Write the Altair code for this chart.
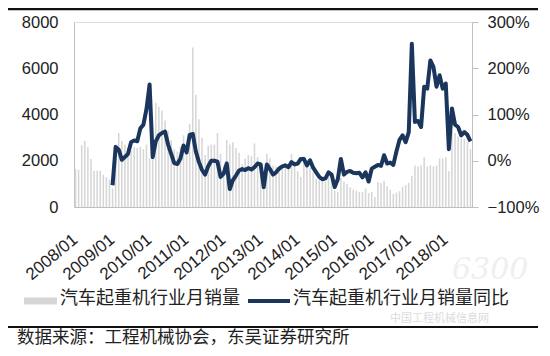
import altair as alt
import pandas as pd

years = list(range(2008, 2019))
months = [f"{y}/{m:02d}" for y in years for m in range(1, 13)][:129]
jan_labels = [f"{y}/01" for y in years]

# 汽车起重机行业月销量 (台)
sales = [
    1650, 1600, 2680, 2870, 2580, 2080, 1570, 1570, 1570, 1390, 1290, 1180,  # 2008
    800, 2100, 3200, 2850, 2700, 2550, 2450, 2600, 2550, 2600, 2500, 2700,   # 2009
    2100, 2300, 4500, 4330, 4170, 3740, 3300, 2900, 2500, 2400, 2600, 3100,  # 2010
    2500, 3600, 6900, 4850, 3800, 3000, 2250, 2650, 2700, 2700, 3200, 2300,  # 2011
    1800, 2900, 2700, 2800, 2550, 2350, 1850, 2100, 2250, 2200, 2750, 2150,  # 2012
    1650, 1250, 2300, 2100, 1800, 1750, 1500, 1700, 1900, 1800, 2300, 1900,  # 2013
    1550, 1300, 2200, 1900, 1700, 1500, 1200, 1200, 1300, 1100, 1500, 1300,  # 2014
    700, 650, 1250, 1100, 1000, 850, 750, 700, 650, 650, 800, 600,           # 2015
    650, 430, 1080, 1040, 1140, 900, 750, 560, 620, 680, 870, 950,           # 2016
    1050, 1350, 1800, 1750, 1800, 2150, 1750, 1800, 1750, 1800, 2100, 2100,  # 2017
    2150, 1550, 3300, 3200, 3050, 2950, 2950, 2800, 2500,                    # 2018
]

# 汽车起重机行业月销量同比 (%), from 2009/01
yoy = [
    -53, 30, 24, 2, 8, 15, 40, 44, 42, 70, 78, 112,          # 2009
    165, 8, 42, 55, 60, 63, 35, 15, -5, -7, 5, 33,           # 2010
    18, 56, 58, 20, -3, -20, -30, -12, 0, 0, -2, -35,        # 2011
    -28, -6, -61, -42, -32, -21, -18, -20, -16, -19, -14, -6,  # 2012
    -8, -57, -8, -18, -30, -25, -17, -12, -10, -14, -3, -8,  # 2013
    -6, 4, 4, -10, 1, -15, -25, -35, -40, -38, -25, -30,     # 2014
    -57, -40, 4, -30, -24, -22, -26, -27, -26, -36, -25, -45,  # 2015
    -17, -13, -9, -11, 12, -6, -4, -9, 20, 45, 55, 40,       # 2016
    62, 253, 84, 86, 73, 160, 156, 217, 203, 160, 185, 156,  # 2017
    167, 25, 113, 78, 73, 55, 62, 56, 42,                    # 2018
]

legend_bar = "汽车起重机行业月销量"
legend_line = "汽车起重机行业月销量同比"
source = "数据来源：工程机械协会，东吴证券研究所"

df = pd.DataFrame({
    "month": months,
    "sales": sales,
    "yoy": [None] * 12 + [v / 100 for v in yoy],
})

NUM_FONT = "Liberation Sans"
CJK_FONT = "Noto Sans CJK SC"
AXIS_GRAY = "#bfbfbf"
NAVY = "#1b365d"
BAR_GRAY = "#d6d6d6"

xenc = alt.X(
    "month:O",
    sort=months,
    scale=alt.Scale(domain=months, paddingInner=0.5, paddingOuter=0.25),
    axis=alt.Axis(
        values=jan_labels, labelAngle=-40, labelAlign="right", labelBaseline="middle",
        labelPadding=30, ticks=False, domainColor=AXIS_GRAY, labelFontSize=17,
        labelFont=NUM_FONT, labelColor="#222222", title=None, labelOverlap=False,
    ),
)

bars = alt.Chart(df).mark_bar(color=BAR_GRAY).encode(
    x=xenc,
    y=alt.Y(
        "sales:Q",
        scale=alt.Scale(domain=[0, 8000]),
        axis=alt.Axis(
            values=[0, 2000, 4000, 6000, 8000], format="d", ticks=False, grid=False,
            domainColor=AXIS_GRAY, labelFontSize=16.5, labelFont=NUM_FONT,
            labelColor="#222222", labelPadding=16, title=None,
        ),
    ),
)

line = alt.Chart(df).mark_line(color=NAVY, strokeWidth=4, strokeJoin="round").encode(
    x=xenc,
    y=alt.Y(
        "yoy:Q",
        scale=alt.Scale(domain=[-1, 3]),
        axis=alt.Axis(
            orient="right", values=[-1, 0, 1, 2, 3], format=".0%", grid=False,
            tickSize=6, tickColor=AXIS_GRAY, domainColor=AXIS_GRAY,
            labelFontSize=16.5, labelFont=NUM_FONT, labelColor="#222222",
            labelPadding=9, title=None,
        ),
    ),
)

one = pd.DataFrame({"a": [0]})

def hrule(x1, x2, y, color, width):
    return alt.Chart(one).mark_rule(color=color, strokeWidth=width).encode(
        x=alt.value(x1), x2=alt.value(x2), y=alt.value(y)
    )

def label(x, y, text, size, color="#222222", font=CJK_FONT, **kw):
    return alt.Chart(one).mark_text(
        align="left", baseline="middle", fontSize=size, font=font, color=color, **kw
    ).encode(x=alt.value(x), y=alt.value(y), text=alt.value(text))

top_rule = hrule(-66, 464, -13, "#111111", 2.5)
bottom_rule = hrule(-66, 464, 305, "#111111", 2)

watermark = alt.layer(
    label(378, 248, "6300", 30, color="#efefef", font="DejaVu Serif", fontStyle="italic"),
    label(316, 297, "中国工程机械信息网", 11, color="#dcdcdc"),
)

leg = alt.layer(
    hrule(-50, -17, 279, BAR_GRAY, 7),
    label(-14, 277, legend_bar, 18),
    hrule(174, 216, 279, NAVY, 4),
    label(219, 277, legend_line, 18),
)

src = label(-57, 316, source, 17.5)

chart = alt.layer(
    bars, line, watermark, leg, top_rule, bottom_rule, src
).resolve_scale(y="independent").properties(
    width=398, height=185,
    padding={"left": 66, "top": 14, "right": 70, "bottom": 141},
    autosize=alt.AutoSizeParams(type="none"),
).configure_view(stroke=None).configure(background="white")

chart.save("out.html", embed_options={"renderer": "svg", "actions": False})
